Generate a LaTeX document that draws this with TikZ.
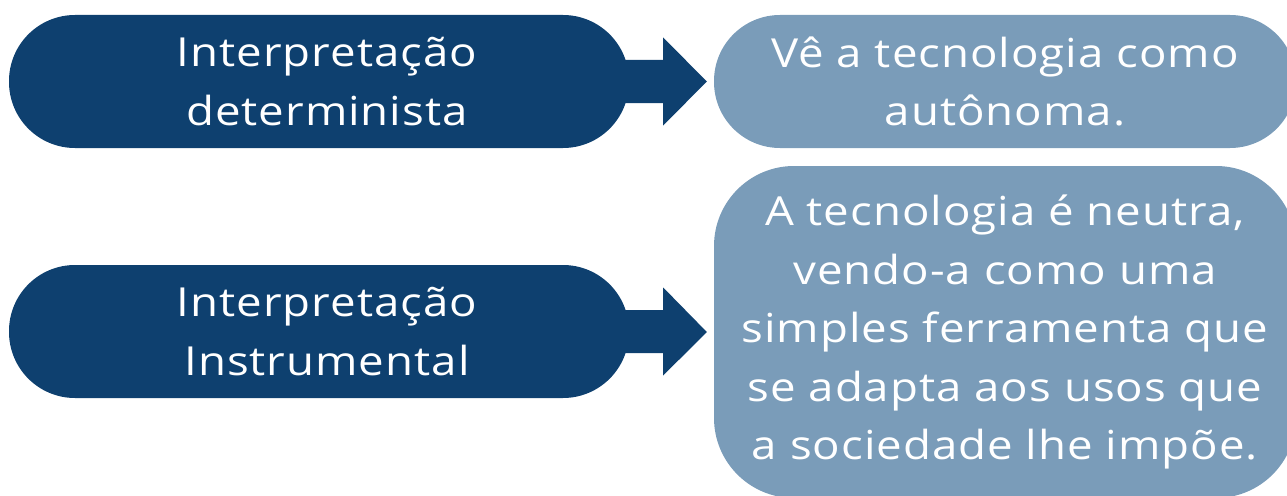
\documentclass[tikz,border=0pt]{standalone}
\usepackage{fontspec}
\setmainfont{Open Sans}[FakeStretch=1.14,LetterSpace=2.5]
\usetikzlibrary{calc}
\definecolor{darkblue}{HTML}{0E406F}
\definecolor{lightblue}{HTML}{7A9CB9}
\begin{document}
\begin{tikzpicture}[x=1pt,y=-1pt,
  box/.style={inner sep=0pt, align=center, text=white, font=\fontsize{40}{58.5}\selectfont},
  pill/.style={box, rounded corners=66pt, minimum height=133pt},
  bigbox/.style={box, rounded corners=80pt},
  blockarrow/.style={fill=darkblue}]
\useasboundingbox (0,0) rectangle (1287,495);
\node[pill, fill=darkblue, minimum width=620pt] (b1) at (319,81.5) {\hspace*{16pt}Interpretação\\\hspace*{16pt}determinista};
\node[pill, fill=lightblue, minimum width=582pt] (b2) at (1005,81.5) {Vê a tecnologia como\\autônoma.};
\node[pill, fill=darkblue, minimum width=620pt] (b3) at (319,331.5) {\hspace*{16pt}Interpretação\\\hspace*{16pt}Instrumental};
\node[bigbox, fill=lightblue, minimum width=582pt, minimum height=332pt] (b4) at (1005,332) {A tecnologia é neutra,\\vendo-a como uma\\simples ferramenta que\\se adapta aos usos que\\a sociedade lhe impõe.};
\fill[blockarrow] ($(b1.east)+(-10,-21.5)$) -- ($(b1.east)+(34,-21.5)$) -- ($(b1.east)+(34,-44)$)
  -- ($(b2.west)+(-7,0)$) -- ($(b1.east)+(34,44)$) -- ($(b1.east)+(34,21.5)$) -- ($(b1.east)+(-10,21.5)$) -- cycle;
\fill[blockarrow] ($(b3.east)+(-10,-21.5)$) -- ($(b3.east)+(34,-21.5)$) -- ($(b3.east)+(34,-44)$)
  -- ($(b4.west)+(-7,0)$) -- ($(b3.east)+(34,44)$) -- ($(b3.east)+(34,21.5)$) -- ($(b3.east)+(-10,21.5)$) -- cycle;
\end{tikzpicture}
\end{document}
